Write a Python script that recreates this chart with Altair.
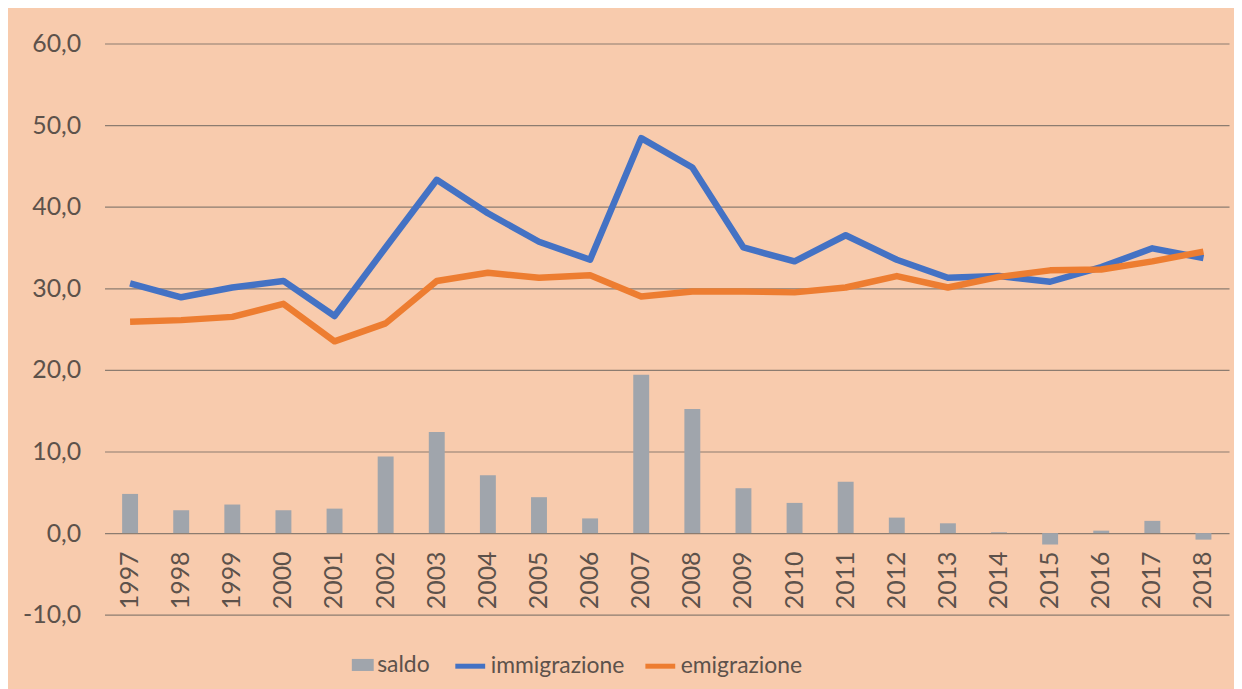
import altair as alt
import pandas as pd

anni = list(range(1997, 2019))
saldo = [4.8, 2.8, 3.5, 2.8, 3.0, 9.4, 12.4, 7.1, 4.4, 1.8, 19.4, 15.2,
         5.5, 3.7, 6.3, 1.9, 1.2, 0.1, -1.4, 0.3, 1.5, -0.8]
immigrazione = [30.6, 28.9, 30.1, 30.9, 26.6, 35.0, 43.3, 39.2, 35.7, 33.5, 48.4, 44.8,
                35.0, 33.3, 36.5, 33.5, 31.3, 31.5, 30.8, 32.6, 34.9, 33.7]
emigrazione = [25.9, 26.1, 26.5, 28.1, 23.5, 25.7, 30.9, 31.9, 31.3, 31.6, 29.0, 29.6,
               29.6, 29.5, 30.1, 31.5, 30.1, 31.4, 32.2, 32.3, 33.3, 34.5]
y_ticks = [-10, 0, 10, 20, 30, 40, 50, 60]

FONT = "Lato"
TXT = "#5d524b"
GRID = "#8c7c70"
BG = "#F8CBAD"

df_bar = pd.DataFrame({"anno": anni, "valore": saldo, "serie": "saldo"})
df_lines = pd.concat([
    pd.DataFrame({"anno": anni, "valore": immigrazione, "serie": "immigrazione"}),
    pd.DataFrame({"anno": anni, "valore": emigrazione, "serie": "emigrazione"}),
])

x_enc = alt.X(
    "anno:O",
    scale=alt.Scale(paddingInner=0, paddingOuter=0),
    axis=alt.Axis(
        title=None, labelAngle=270, ticks=False, tickSize=0, domain=False,
        offset=-82, labelPadding=18, labelFontSize=25, labelFont=FONT,
        labelColor=TXT, grid=False,
    ),
)
y_enc = alt.Y(
    "valore:Q",
    scale=alt.Scale(domain=[-10, 60], nice=False, zero=False),
    axis=alt.Axis(
        title=None, values=y_ticks, labelExpr="datum.value + ',0'",
        ticks=False, tickSize=0, domain=False, labelPadding=24,
        labelFontSize=25, labelFont=FONT, labelColor=TXT,
        grid=True, gridColor=GRID, gridWidth=1.2, gridOpacity=1,
    ),
)

bars = alt.Chart(df_bar).mark_bar(size=16).encode(
    x=x_enc,
    y=y_enc,
    color=alt.Color(
        "serie:N",
        scale=alt.Scale(domain=["saldo"], range=["#A0A5AC"]),
        legend=alt.Legend(
            title=None, orient="none", legendX=248, legendY=613,
            direction="horizontal", padding=0,
            symbolType="M-1,-0.55H1V0.55H-1Z", symbolSize=484,
            symbolStrokeWidth=0, symbolOpacity=1,
            labelFontSize=23, labelFont=FONT, labelColor=TXT, labelOffset=3,
        ),
    ),
)

lines = alt.Chart(df_lines).mark_line(strokeWidth=6.5, strokeJoin="round").encode(
    x=x_enc,
    y=y_enc,
    stroke=alt.Stroke(
        "serie:N",
        scale=alt.Scale(domain=["immigrazione", "emigrazione"],
                        range=["#4472C4", "#ED7D31"]),
        legend=alt.Legend(
            title=None, orient="none", legendX=350, legendY=608,
            direction="horizontal", padding=0, columnPadding=10,
            symbolType="stroke", symbolSize=900, symbolStrokeWidth=5,
            labelFontSize=23, labelFont=FONT, labelColor=TXT, labelOffset=3,
        ),
    ),
)

chart = alt.layer(bars, lines).properties(
    width=1130, height=574,
    autosize=alt.AutoSizeParams(type="none"),
    padding={"left": 97, "top": 34, "right": 5, "bottom": 73},
    background=BG,
).configure_view(stroke=None)

chart.save("out.html", embed_options={"renderer": "svg", "actions": False})
